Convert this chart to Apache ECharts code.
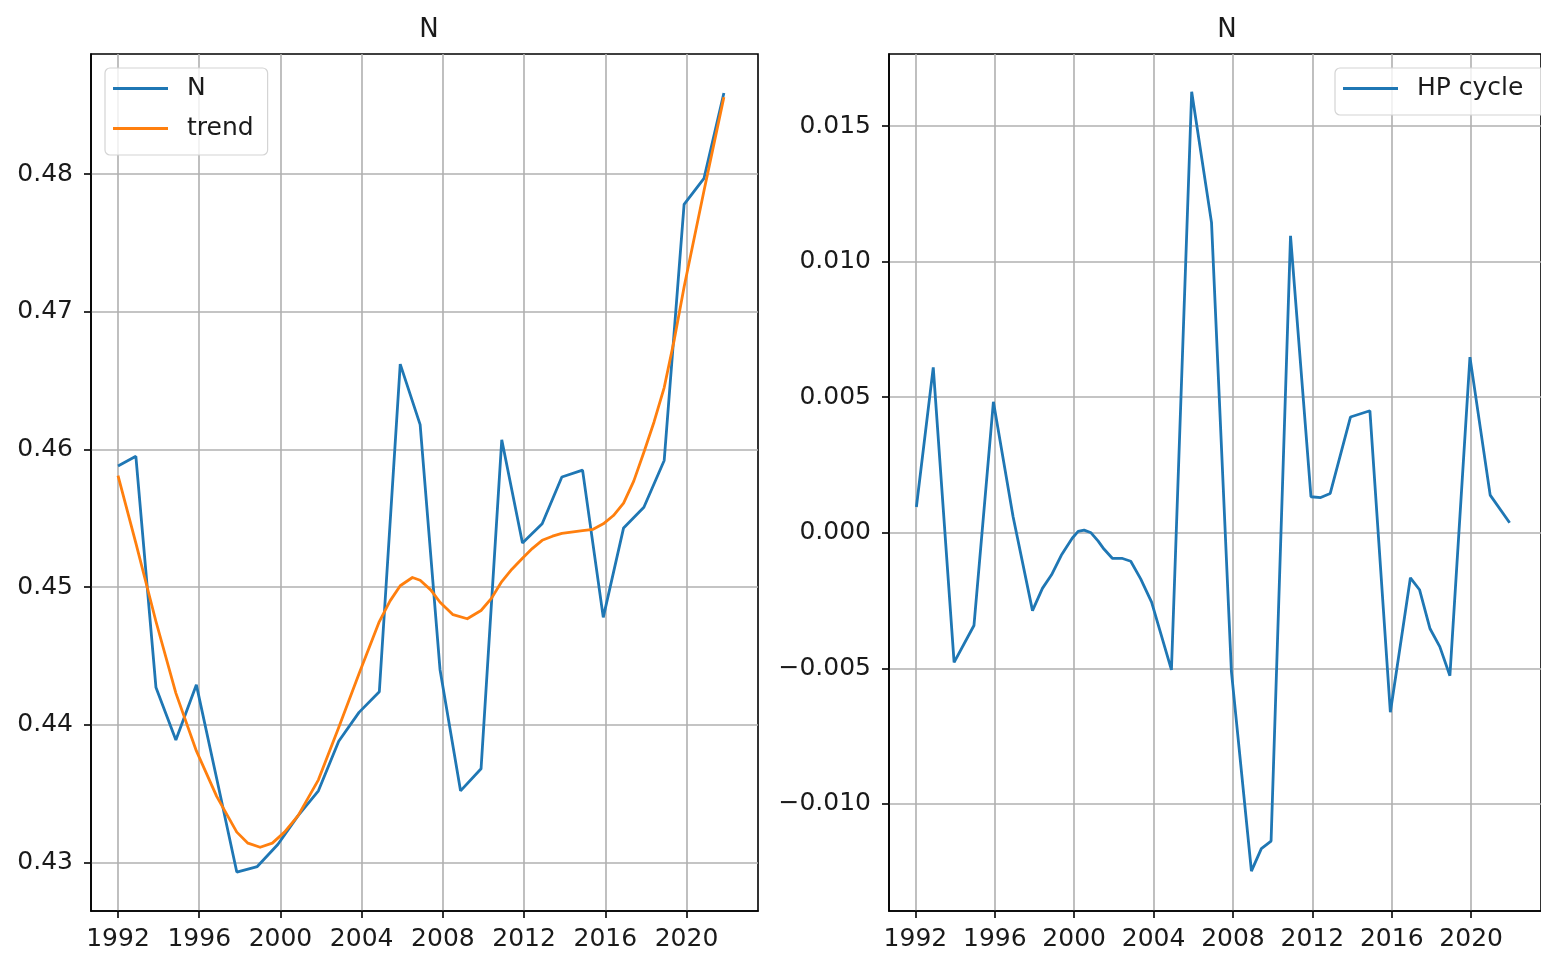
<!DOCTYPE html>
<html lang="en">
<head>
    <meta charset="UTF-8">
    <title>N - HP filter</title>
    <script src="https://cdn.jsdelivr.net/npm/echarts@6/dist/echarts.min.js"></script>
    <style>
        html, body { margin: 0; padding: 0; background: #fff; }
        #chart { width: 1541px; height: 953px; }
    </style>
</head>
<body>
<div id="chart"></div>
<script>
    // left panel: N (one point per year)
    var years = [1992.0, 1992.88, 1993.87, 1994.85, 1995.86, 1996.86, 1997.85, 1998.86, 1999.87, 2000.87,
        2001.87, 2002.87, 2003.87, 2004.87, 2005.9, 2006.88, 2007.86, 2008.87, 2009.88, 2010.9,
        2011.92, 2012.89, 2013.86, 2014.88, 2015.9, 2016.9, 2017.9, 2018.9, 2019.88, 2020.86, 2021.84];
    var nValues = [0.4588, 0.4595, 0.4427, 0.4389, 0.4429, 0.4361, 0.4293, 0.4297, 0.4313, 0.4334,
        0.4352, 0.4388, 0.4409, 0.4424, 0.4662, 0.4618, 0.4440, 0.4352, 0.4368, 0.4607,
        0.4532, 0.4546, 0.4580, 0.4585, 0.4478, 0.4543, 0.4558, 0.4592, 0.4778, 0.4797, 0.4859];

    // left panel: HP trend
    var trendYears = [1992.0, 1992.88, 1993.87, 1994.85, 1995.86, 1996.86, 1997.85, 1998.4, 1999.0, 1999.6,
        2000.2, 2000.87, 2001.87, 2002.87, 2003.87, 2004.87, 2005.4, 2005.9, 2006.5, 2006.88,
        2007.4, 2007.86, 2008.5, 2009.2, 2009.88, 2010.4, 2010.9, 2011.4, 2011.92, 2012.4,
        2012.89, 2013.4, 2013.86, 2014.88, 2015.4, 2015.9, 2016.4, 2016.9, 2017.4, 2017.9,
        2018.4, 2018.9, 2019.4, 2019.88, 2020.86, 2021.84];
    var trendValues = [0.4581, 0.4532, 0.4475, 0.4423, 0.4381, 0.4348, 0.4322, 0.4314, 0.4311, 0.4314,
        0.4322, 0.4334, 0.4360, 0.4398, 0.4437, 0.4475, 0.4490, 0.4501, 0.4507, 0.4505,
        0.4498, 0.4489, 0.4480, 0.4477, 0.4483, 0.4492, 0.4504, 0.4513, 0.4521, 0.4528,
        0.4534, 0.4537, 0.4539, 0.4541, 0.4542, 0.4546, 0.4552, 0.4561, 0.4577, 0.4598,
        0.4620, 0.4645, 0.4680, 0.4718, 0.4788, 0.4856];

    // right panel: HP cycle
    var cycleYears = [1992.05, 1992.9, 1993.95, 1994.95, 1995.93, 1996.92, 1997.9, 1998.4, 1998.86, 1999.35,
        1999.9, 2000.2, 2000.5, 2000.85, 2001.2, 2001.5, 2001.92, 2002.4, 2002.85, 2003.35,
        2003.9, 2004.9, 2005.92, 2006.92, 2007.92, 2008.93, 2009.43, 2009.92, 2010.9, 2011.93,
        2012.42, 2012.9, 2013.92, 2014.9, 2015.93, 2016.94, 2017.4, 2017.93, 2018.42, 2018.93,
        2019.94, 2020.96, 2021.94];
    var cycleValues = [0.00095, 0.0061, -0.00478, -0.00342, 0.00483, 0.0006, -0.00287, -0.00205, -0.00155, -0.00083,
        -0.0002, 0.00005, 0.0001, 0.0, -0.0003, -0.0006, -0.00094, -0.00094, -0.00105, -0.0017,
        -0.00256, -0.00506, 0.01627, 0.01144, -0.0051, -0.01248, -0.01165, -0.01137, 0.01095, 0.00133,
        0.0013, 0.00145, 0.00427, 0.0045, -0.00662, -0.00166, -0.0021, -0.00354, -0.0042, -0.00527,
        0.00648, 0.00139, 0.00037];

    // tick labels
    var yearTicks = [1992, 1996, 2000, 2004, 2008, 2012, 2016, 2020];
    var nTicks = [0.43, 0.44, 0.45, 0.46, 0.47, 0.48];
    var cycleTicks = [-0.010, -0.005, 0.000, 0.005, 0.010, 0.015];

    var FONT = 'DejaVu Sans';
    var TEXT = '#1a1a1a';
    var BLUE = '#1f77b4';
    var ORANGE = '#ff7f0e';
    var FS = 25;

    function pairs(xs, ys) {
        var out = [];
        for (var i = 0; i < xs.length; i++) out.push([xs[i], ys[i]]);
        return out;
    }

    function xAxis(gridIndex) {
        return {
            type: 'value', gridIndex: gridIndex, min: 1990.67, max: 2023.52,
            axisLine: {show: true, onZero: false, lineStyle: {color: '#000', width: 1.6}},
            axisTick: {show: true, length: 7, customValues: yearTicks, lineStyle: {color: '#000', width: 1.6}},
            axisLabel: {
                customValues: yearTicks, margin: 16, fontFamily: FONT, fontSize: FS, color: TEXT,
                formatter: function (v) { return String(v); }
            },
            splitLine: {show: true, lineStyle: {color: '#b0b0b0', width: 1.6}}
        };
    }

    function yAxis(gridIndex, min, max, ticks, digits) {
        return {
            type: 'value', gridIndex: gridIndex, min: min, max: max,
            axisLine: {show: true, lineStyle: {color: '#000', width: 1.6}},
            axisTick: {show: true, length: 7, customValues: ticks, lineStyle: {color: '#000', width: 1.6}},
            axisLabel: {
                customValues: ticks, margin: 18, fontFamily: FONT, fontSize: FS, color: TEXT,
                formatter: function (v) { return v.toFixed(digits).replace('-', '\u2212'); }
            },
            splitLine: {show: true, lineStyle: {color: '#b0b0b0', width: 1.6}}
        };
    }

    function legend(names, left, padRight) {
        return {
            data: names, orient: 'vertical', left: left, top: 68,
            icon: 'rect', itemWidth: 55, itemHeight: 3, itemGap: 15,
            padding: [8, padRight, 14, 8],
            borderColor: '#d4d4d4', borderWidth: 1.2, borderRadius: 5,
            backgroundColor: 'rgba(255,255,255,0.8)',
            textStyle: {fontFamily: FONT, fontSize: FS, color: TEXT, lineHeight: 24, padding: [0, 0, 0, 14]}
        };
    }

    var titleStyle = {fontFamily: FONT, fontSize: 26, fontWeight: 'normal', color: TEXT};

    var chart = echarts.init(document.getElementById('chart'));
    chart.setOption({
        animation: false,
        backgroundColor: '#fff',
        title: [
            {text: 'N', left: 424, top: 12, textAlign: 'center', textStyle: titleStyle},
            {text: 'N', left: 1222, top: 12, textAlign: 'center', textStyle: titleStyle}
        ],
        legend: [legend(['N', 'trend'], 105, 14), legend(['HP cycle'], 1335, 40)],
        grid: [
            {left: 91, top: 54, width: 667, height: 857, show: true, borderColor: '#000', borderWidth: 1.6},
            {left: 889, top: 54, width: 667, height: 857, show: true, borderColor: '#000', borderWidth: 1.6}
        ],
        xAxis: [xAxis(0), xAxis(1)],
        yAxis: [
            yAxis(0, 0.42647, 0.48873, nTicks, 2),
            yAxis(1, -0.01395, 0.01766, cycleTicks, 3)
        ],
        series: [
            {
                name: 'N', type: 'line', xAxisIndex: 0, yAxisIndex: 0,
                data: pairs(years, nValues), symbol: 'none',
                lineStyle: {color: BLUE, width: 2.8}, itemStyle: {color: BLUE}
            },
            {
                name: 'trend', type: 'line', xAxisIndex: 0, yAxisIndex: 0,
                data: pairs(trendYears, trendValues), symbol: 'none',
                lineStyle: {color: ORANGE, width: 2.8, join: 'round'}, itemStyle: {color: ORANGE}
            },
            {
                name: 'HP cycle', type: 'line', xAxisIndex: 1, yAxisIndex: 1,
                data: pairs(cycleYears, cycleValues), symbol: 'none',
                lineStyle: {color: BLUE, width: 2.8}, itemStyle: {color: BLUE}
            }
        ]
    });
</script>
</body>
</html>
